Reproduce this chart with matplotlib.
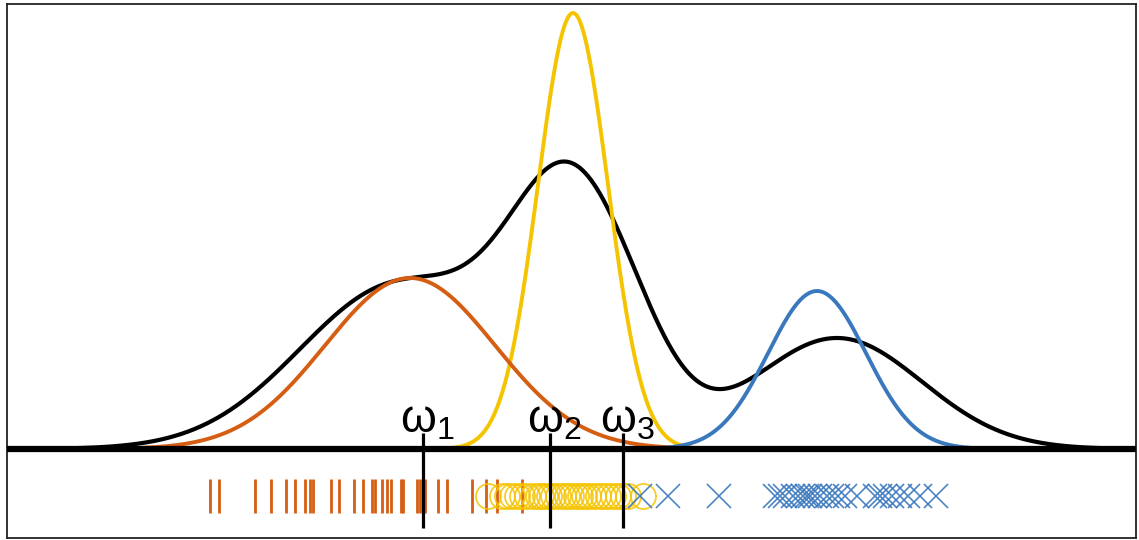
import numpy as np
import matplotlib
matplotlib.use("Agg")
import matplotlib.pyplot as plt

# component curves: mean, sd, peak height
comp_names = ["orange", "yellow", "blue"]
comp_mean = [40.3, 56.6, 81.0]
comp_sd = [8.5, 3.5, 4.9]
comp_peak = [1.71, 4.36, 1.58]
comp_color = ["#D55E12", "#F5C400", "#3A78BE"]

# overall density (black), built from four bumps
mix_mean = [39.3, 56.3, 63.0, 83.0]
mix_sd = [10.0, 6.0, 4.5, 8.5]
mix_peak = [1.65, 2.37, 0.30, 1.11]

# observed samples per cluster
orange_x = [20.3, 21.2, 24.8, 26.4, 27.9, 28.8, 29.8, 30.3, 30.6, 32.4, 33.2, 34.7,
            35.6, 36.5, 36.8, 37.5, 38.0, 38.4, 39.4, 39.6, 41.0, 41.3, 41.8, 43.1,
            44.0, 46.5, 47.9, 49.0, 51.5]
yellow_x = [48.1, 49.5, 50.0, 50.5, 51.0, 51.5, 52.0, 52.6, 53.1, 53.4, 53.8, 54.2,
            54.6, 55.1, 55.6, 56.0, 56.4, 56.9, 57.3, 57.7, 58.1, 58.6, 59.1, 59.6,
            60.1, 60.6, 61.1, 61.6, 62.1, 63.6]
blue_x = [63.3, 66.1, 71.2, 76.8, 77.3, 77.8, 78.6, 79.1, 79.6, 80.0, 80.3, 80.8,
          81.3, 82.0, 82.5, 83.1, 83.8, 85.0, 86.8, 87.3, 87.8, 88.5, 89.3, 90.1,
          91.3, 92.9]

# estimated centroids
omega_x = [41.6, 54.3, 61.6]
omega_labels = ["1", "2", "3"]


def bump(x, m, s, h):
    return h * np.exp(-0.5 * ((x - m) / s) ** 2)


W, H = 1139, 540
fig = plt.figure(figsize=(W / 100, H / 100), dpi=100)
ax = fig.add_axes([7 / W, 2 / H, 1129 / W, 534 / H])
ax.set_xlim(0, 112.9)
ax.set_ylim(-0.89, 4.45)

x = np.linspace(0, 112.9, 2000)
mix = sum(bump(x, m, s, h) for m, s, h in zip(mix_mean, mix_sd, mix_peak))
ax.plot(x, mix, color="black", lw=3, zorder=2)

for i in [1, 0, 2]:
    y = bump(x, comp_mean[i], comp_sd[i], comp_peak[i])
    ax.plot(x, y, color=comp_color[i], lw=2.8, zorder=3)

ax.axhline(0, color="black", lw=4.5, zorder=4)

yy = -0.47
ax.plot(orange_x, [yy] * len(orange_x), ls="none", marker="|", ms=25, mew=2,
        color=comp_color[0], zorder=3)
ax.plot(yellow_x, [yy] * len(yellow_x), ls="none", marker="o", ms=18, mew=1.3,
        mfc="none", mec=comp_color[1], alpha=0.85, zorder=3)
ax.plot(blue_x, [yy] * len(blue_x), ls="none", marker="x", ms=17, mew=1.2,
        color=comp_color[2], alpha=0.9, zorder=3)

for xo, lab in zip(omega_x, omega_labels):
    ax.plot([xo, xo], [0.16, -0.79], color="black", lw=2.3, zorder=5,
            solid_capstyle="butt")
    ax.text(xo + 0.4, 0.17, r"$\mathregular{ω_%s}$" % lab, ha="center", va="baseline",
            fontsize=33, family="Liberation Sans", zorder=6)

ax.set_xticks([])
ax.set_yticks([])
for sp in ax.spines.values():
    sp.set_linewidth(1.3)
    sp.set_color("#222222")

fig.savefig("out.png", dpi=100)
